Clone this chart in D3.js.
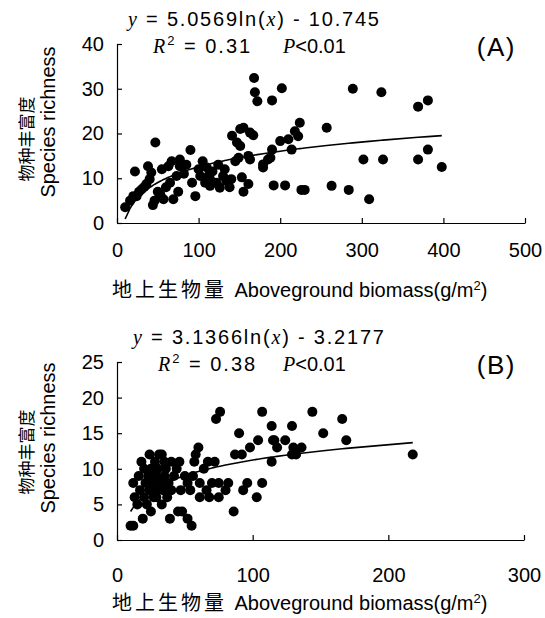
<!DOCTYPE html>
<html>
<head>
<meta charset="utf-8">
<script src="https://cdn.jsdelivr.net/npm/d3@7"></script>
<style>
  body { margin: 0; background: #fff; }
  text { font-family: "Liberation Sans", Arial, sans-serif; fill: #000; }
  .axis path, .axis line { stroke: #000; stroke-width: 1.2; }
  .axis text { font-size: 20px; }
  .cjk { font-family: "Noto Sans CJK SC", sans-serif; }
  .it { font-family: "Liberation Serif", serif; font-style: italic; }
</style>
</head>
<body>
<div id="chart"></div>
<script>
// panel A: biomass (g/m2) vs species richness
var biomassA = [10,16,20,22,24,27,30,33,36,38,40,42,44,46,47,50,53,55,57,60,63,65,67,69,73,75,77,77,82,85,
  90,92,96,100,102,105,108,110,112,114,114,117,122,124,126,130,132,134,138,140,141,145,147,149,151,151,153,155,155,161,
  161,163,163,167,168,169,172,179,179,185,188,190,190,192,200,202,206,210,214,218,222,224,226,230,257,263,284,289,302,309,
  324,326,369,369,381,381,398];
var richnessA = [3.5,5,6,11.5,6,7,7.5,8,8.7,12.7,9.8,11.3,4,5,18,7,6.4,12,5.3,8,12.7,9,13.8,5.3,10.5,7,14.2,12.7,11,13,
  16.3,9,6,12,10.5,13.8,9,12.4,10.5,9.8,8.3,11.5,9,13,7.9,10.5,12,9.4,8,9.8,19.5,13.8,18,14.6,21,17.2,10.2,21.3,7,15,
  8.7,20.2,14.2,19.6,32.4,29.2,27.2,12.4,13.1,14.2,14.6,27.4,16.4,8.4,18.3,30.1,8.4,18.7,16.4,20.5,19.4,22.4,7.4,7.4,21.3,8.3,7.4,30,14.2,5.3,
  29.2,14.2,26,14.2,27.4,16.4,12.5];

// panel B
var biomassB = [10,12,13,12,15,16,17,18,19,20,20,21,22,23,24,24,25,25,26,27,28,29,29,30,30,31,32,33,33,34,
  35,35,36,37,38,39,40,40,42,44,45,46,47,48,50,52,52,54,55,56,57,58,60,61,61,64,66,67,68,70,
  72,73,75,75,76,80,82,86,87,90,92,93,96,98,103,104,107,107,114,114,115,116,118,124,129,129,130,132,136,144,
  152,166,169,218];
var richnessB = [2,2,6,8,5,9,7,11,3,6,10,8,5,9,7,12,4,10,8,6,11,9,6,7,10,12,8,5,12,7,
  9,11,10,6,8,3,11,7,9,10,4,11,7,4,9,3,8,7,2,9,11,12,13,8,6,10,7,11,6,8,
  11,17,8,6,18,7,8,4,12,15,12,7,8,13,6,14,18,8,11,16,14,14,13,14,16,12,13,12,13,18,
  15,17,14,12];

// fitted log curves shown on the chart
var fitA = {a: 5.0569, b: -10.745}, fitB = {a: 3.1366, b: -3.2177};

var xTicksA = [0,100,200,300,400,500], yTicksA = [0,10,20,30,40];
var xTicksB = [0,100,200,300], yTicksB = [0,5,10,15,20,25];

var svg = d3.select("#chart").append("svg")
    .attr("width", 545)
    .attr("height", 618);

function panel(opts) {
  var x = d3.scaleLinear().domain(opts.xDomain).range([117, opts.xRight]);
  var y = d3.scaleLinear().domain(opts.yDomain).range([opts.bottom, opts.top]);

  var g = svg.append("g");

  var pts = opts.xs.map(function(v, i) { return {x: v, y: opts.ys[i]}; });

  g.append("g").selectAll("circle")
      .data(pts)
    .enter().append("circle")
      .attr("cx", function(d) { return x(d.x); })
      .attr("cy", function(d) { return y(d.y); })
      .attr("r", 5)
      .style("fill", "#000");

  // trend line through the fitted values at each sample
  var xs = opts.xs.slice().sort(d3.ascending);
  var line = d3.line()
      .x(function(d) { return x(d); })
      .y(function(d) { return y(opts.fit.a * Math.log(d) + opts.fit.b); });
  g.append("path")
      .datum(xs)
      .attr("d", line)
      .style("fill", "none")
      .style("stroke", "#000")
      .style("stroke-width", 1.6);

  g.append("g")
      .attr("class", "axis")
      .attr("transform", "translate(0," + opts.bottom + ")")
      .call(d3.axisBottom(x).tickValues(opts.xTicks).tickSizeInner(-5).tickSizeOuter(0).tickPadding(opts.xPad))
      .call(function(s) { s.selectAll("text").attr("font-family", null); });

  g.append("g")
      .attr("class", "axis")
      .attr("transform", "translate(117,0)")
      .call(d3.axisLeft(y).tickValues(opts.yTicks).tickSizeInner(-5).tickSizeOuter(0).tickPadding(13))
      .call(function(s) { s.selectAll("text").attr("font-family", null); });

  // y axis titles
  g.append("text")
      .attr("class", "cjk")
      .attr("transform", "translate(33," + opts.cnY + ") rotate(-90)")
      .attr("text-anchor", "middle")
      .style("font-size", "17px")
      .text("物种丰富度");
  g.append("text")
      .attr("transform", "translate(55," + opts.enY + ") rotate(-90)")
      .attr("text-anchor", "middle")
      .style("font-size", "20px")
      .text("Species richness");

  // x axis title
  var xt = g.append("text")
      .attr("x", 112)
      .attr("y", opts.titleY)
      .style("font-size", "20px");
  xt.append("tspan").attr("class", "cjk").style("letter-spacing", "3px").text("地上生物量 ");
  xt.append("tspan").text("Aboveground biomass(g/m");
  xt.append("tspan").attr("dy", -7).style("font-size", "13px").text("2");
  xt.append("tspan").attr("dy", 7).text(")");

  // equation
  var eq = g.append("text")
      .attr("x", opts.eqX)
      .attr("y", opts.eqY)
      .style("font-size", "20px")
      .style("letter-spacing", "1.8px")
      .attr("xml:space", "preserve");
  eq.append("tspan").attr("class", "it").text("y");
  eq.append("tspan").text(" = " + opts.fit.a.toFixed(4) + "ln(");
  eq.append("tspan").attr("class", "it").text("x");
  eq.append("tspan").text(") - " + Math.abs(opts.fit.b));

  var r2 = g.append("text")
      .attr("x", opts.r2X)
      .attr("y", opts.eqY + 27)
      .style("font-size", "20px")
      .style("letter-spacing", "2px");
  r2.append("tspan").attr("class", "it").text("R");
  r2.append("tspan").attr("dy", -8).style("font-size", "13px").text("2");
  r2.append("tspan").attr("dy", 8).text(" = " + opts.r2);
  g.append("text")
      .attr("x", 283)
      .attr("y", opts.eqY + 27)
      .style("font-size", "20px")
      .call(function(t) {
        t.append("tspan").attr("class", "it").text("P");
        t.append("tspan").text("<0.01");
      });

  g.append("text")
      .attr("x", 516)
      .attr("y", opts.eqY + 30)
      .attr("text-anchor", "end")
      .style("font-size", "26px")
      .style("letter-spacing", "1.5px")
      .text(opts.label);
}

panel({xs: biomassA, ys: richnessA, fit: fitA, xDomain: [0, 500], yDomain: [0, 40],
  xRight: 525, top: 44, bottom: 223, xTicks: xTicksA, yTicks: yTicksA, xPad: 20,
  titleY: 297, eqX: 128, eqY: 26, r2X: 153, r2: "0.31", label: "(A)", cnY: 139, enY: 122});

panel({xs: biomassB, ys: richnessB, fit: fitB, xDomain: [0, 300], yDomain: [0, 25],
  xRight: 524, top: 362, bottom: 540, xTicks: xTicksB, yTicks: yTicksB, xPad: 28,
  titleY: 610, eqX: 133, eqY: 344, r2X: 158, r2: "0.38", label: "(B)", cnY: 452, enY: 438});
</script>
</body>
</html>
